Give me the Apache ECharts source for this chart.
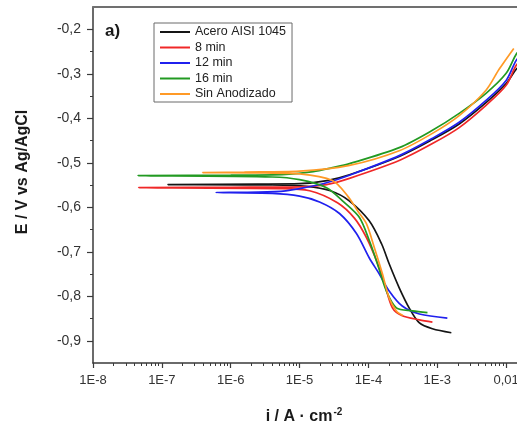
<!DOCTYPE html>
<html>
<head>
<meta charset="utf-8">
<script src="https://cdn.jsdelivr.net/npm/echarts@6/dist/echarts.min.js"></script>
<style>
  html, body { margin: 0; padding: 0; background: #ffffff; }
  #chart { width: 517px; height: 426px; }
</style>
</head>
<body>
<div id="chart"></div>
<script>
// Potentiodynamic polarization curves: current density i (A/cm²) vs potential E (V vs Ag/AgCl)
var seriesNames = ['Acero AISI 1045', '8 min', '12 min', '16 min', 'Sin Anodizado'];
var seriesColors = ['#151515', '#f02828', '#2020ee', '#229a22', '#ff9a26'];

// Acero AISI 1045
var acero_i = [1.6e-3, 8.5e-4, 5.5e-4, 3.9e-4, 2.8e-4, 2.0e-4, 1.55e-4, 1.02e-4, 5.2e-5, 2.8e-5, 1.26e-5, 4.0e-6,
               1.22e-7, 2.5e-6, 1.0e-5, 2.5e-5, 5.3e-5, 2.8e-4, 8.5e-4, 2.08e-3, 5.1e-3, 1.0e-2, 1.4e-2, 1.78e-2];
var acero_E = [-0.882, -0.873, -0.860, -0.826, -0.781, -0.727, -0.682, -0.630, -0.585, -0.563, -0.553, -0.550,
               -0.549, -0.548, -0.547, -0.540, -0.527, -0.486, -0.448, -0.413, -0.365, -0.322, -0.290, -0.276];

// 8 min
var min8_i = [8.5e-4, 5.5e-4, 3.1e-4, 2.23e-4, 1.71e-4, 1.31e-4, 9.35e-5, 6.3e-5, 3.55e-5, 1.4e-5, 5.0e-6,
              4.6e-8, 1.0e-6, 1.0e-5, 2.46e-5, 5.3e-5, 2.8e-4, 8.5e-4, 2.08e-3, 5.1e-3, 1.0e-2, 1.4e-2, 1.78e-2];
var min8_E = [-0.858, -0.853, -0.844, -0.826, -0.772, -0.720, -0.668, -0.625, -0.590, -0.563, -0.558,
              -0.556, -0.555, -0.554, -0.549, -0.535, -0.495, -0.457, -0.421, -0.371, -0.326, -0.281, -0.265];

// 12 min
var min12_i = [1.4e-3, 5.5e-4, 3.1e-4, 2.0e-4, 1.44e-4, 1.03e-4, 6.7e-5, 3.8e-5, 1.95e-5, 1.0e-5, 4.0e-6,
               6.1e-7, 2.5e-6, 6.3e-6, 1.26e-5, 2.46e-5, 5.3e-5, 2.8e-4, 8.5e-4, 2.08e-3, 5.1e-3, 1.0e-2, 1.4e-2, 1.78e-2];
var min12_E = [-0.849, -0.840, -0.822, -0.788, -0.750, -0.714, -0.659, -0.614, -0.588, -0.575, -0.569,
               -0.567, -0.566, -0.563, -0.555, -0.545, -0.528, -0.484, -0.445, -0.409, -0.360, -0.315, -0.270, -0.254];

// 16 min
var min16_i = [7.2e-4, 4.35e-4, 2.55e-4, 1.82e-4, 1.35e-4, 1.03e-4, 7.4e-5, 4.37e-5, 2.46e-5, 1.0e-5, 4.0e-6,
               4.5e-8, 1.0e-6, 6.3e-6, 1.58e-5, 3.0e-5, 5.3e-5, 2.8e-4, 8.5e-4, 2.08e-3, 5.1e-3, 1.0e-2, 1.4e-2, 1.78e-2];
var min16_E = [-0.837, -0.833, -0.826, -0.788, -0.727, -0.675, -0.623, -0.588, -0.556, -0.538, -0.532,
               -0.529, -0.528, -0.526, -0.520, -0.511, -0.502, -0.466, -0.427, -0.389, -0.344, -0.299, -0.256, -0.238];

// Sin Anodizado
var sinAnod_i = [3.16e-4, 2.55e-4, 2.0e-4, 1.6e-4, 1.22e-4, 9.35e-5, 7.1e-5, 5.0e-5, 3.0e-5, 1.0e-5, 3.16e-6,
                 3.9e-7, 1.58e-6, 1.0e-5, 5.3e-5, 2.8e-4, 8.5e-4, 2.08e-3, 5.1e-3, 7.9e-3, 1.29e-2];
var sinAnod_E = [-0.843, -0.833, -0.804, -0.750, -0.691, -0.637, -0.610, -0.575, -0.540, -0.525, -0.523,
                 -0.522, -0.521, -0.519, -0.506, -0.473, -0.434, -0.394, -0.337, -0.290, -0.243];

// Axis ticks and labels
var xTickValues = [1e-8, 1e-7, 1e-6, 1e-5, 1e-4, 1e-3, 1e-2];
var xTickLabels = ['1E-8', '1E-7', '1E-6', '1E-5', '1E-4', '1E-3', '0,01'];
var yTickValues = [-0.9, -0.8, -0.7, -0.6, -0.5, -0.4, -0.3, -0.2];
var yTickLabels = ['-0,9', '-0,8', '-0,7', '-0,6', '-0,5', '-0,4', '-0,3', '-0,2'];
var yMinorTicks = [-0.85, -0.75, -0.65, -0.55, -0.45, -0.35, -0.25];

// minor ticks at 2..9 within each decade
var xMinorTicks = [];
xTickValues.forEach(function (d) {
  for (var m = 2; m <= 9; m++) xMinorTicks.push(d * m);
});

var FONT = 'Arial, "Liberation Sans", sans-serif';
var AXIS_COLOR = '#3a3a3a';

function pairs(xs, ys) {
  return xs.map(function (x, k) { return [x, ys[k]]; });
}
var seriesData = [
  pairs(acero_i, acero_E),
  pairs(min8_i, min8_E),
  pairs(min12_i, min12_E),
  pairs(min16_i, min16_E),
  pairs(sinAnod_i, sinAnod_E)
];

var chart = echarts.init(document.getElementById('chart'), null, { renderer: 'canvas' });

// the plot frame runs on past the right edge of the page, up to 0,1
var logAxisBase = { type: 'log', logBase: 10, min: 1e-8, max: 1e-1, splitLine: { show: false } };

var option = {
  animation: false,
  backgroundColor: '#ffffff',
  grid: { left: 93, right: -58, top: 7, bottom: 63, outerBoundsMode: 'none' },
  legend: {
    orient: 'vertical',
    left: 154,
    top: 23,
    padding: [2, 6, 1, 6],
    itemWidth: 30,
    itemHeight: 2,
    itemGap: 1.5,
    icon: 'rect',
    borderColor: '#6a6a6a',
    borderWidth: 1,
    textStyle: { fontFamily: FONT, fontSize: 12.5, color: '#222', lineHeight: 14 },
    data: seriesNames
  },
  xAxis: [
    Object.assign({}, logAxisBase, {
      position: 'bottom',
      axisLine: { show: true, onZero: false, lineStyle: { color: AXIS_COLOR, width: 1.5 } },
      axisTick: { show: true, length: 5, customValues: xTickValues, lineStyle: { color: AXIS_COLOR, width: 1.2 } },
      axisLabel: {
        show: true, customValues: xTickValues, margin: 11,
        fontFamily: FONT, fontSize: 13, color: '#333',
        formatter: function (v) {
          var k = Math.round(Math.log(v) / Math.LN10) + 8;
          return xTickLabels[k] || '';
        }
      }
    }),
    Object.assign({}, logAxisBase, {
      position: 'bottom',
      axisLine: { show: false, onZero: false },
      axisTick: { show: true, length: 3, customValues: xMinorTicks, lineStyle: { color: AXIS_COLOR, width: 1 } },
      axisLabel: { show: false }
    }),
    Object.assign({}, logAxisBase, {
      position: 'top',
      axisLine: { show: true, onZero: false, lineStyle: { color: '#707070', width: 2 } },
      axisTick: { show: false },
      axisLabel: { show: false }
    })
  ],
  yAxis: [
    {
      type: 'value', min: -0.95, max: -0.15, position: 'left', offset: 0,
      splitLine: { show: false },
      axisLine: { show: true, onZero: false, lineStyle: { color: AXIS_COLOR, width: 1.5 } },
      axisTick: { show: true, length: 6, customValues: yTickValues, lineStyle: { color: AXIS_COLOR, width: 1.2 } },
      axisLabel: {
        show: true, customValues: yTickValues, margin: 12,
        fontFamily: FONT, fontSize: 14, color: '#333',
        formatter: function (v) {
          for (var k = 0; k < yTickValues.length; k++) {
            if (Math.abs(yTickValues[k] - v) < 1e-6) return yTickLabels[k];
          }
          return '';
        }
      }
    },
    {
      type: 'value', min: -0.95, max: -0.15, position: 'left', offset: 0,
      splitLine: { show: false },
      axisLine: { show: false, onZero: false },
      axisTick: { show: true, length: 3, customValues: yMinorTicks, lineStyle: { color: AXIS_COLOR, width: 1 } },
      axisLabel: { show: false }
    }
  ],
  graphic: [
    {
      type: 'text', left: 105, top: 23,
      style: { text: 'a)', font: 'bold 17px ' + FONT, fill: '#1a1a1a' }
    },
    {
      type: 'text', x: 304, y: 417,
      style: {
        text: '{a|i / A · cm}{s|-2}',
        align: 'center', verticalAlign: 'middle',
        rich: {
          a: { font: 'bold 16px ' + FONT, fill: '#1a1a1a' },
          s: { font: 'bold 10px ' + FONT, fill: '#1a1a1a', padding: [0, 0, 10, 1] }
        }
      }
    },
    {
      type: 'text', x: 23, y: 172, rotation: Math.PI / 2,
      style: {
        text: 'E / V vs Ag/AgCl',
        align: 'center', verticalAlign: 'middle',
        font: 'bold 16px ' + FONT, fill: '#1a1a1a'
      }
    }
  ],
  series: seriesNames.map(function (name, k) {
    return {
      name: name,
      type: 'line',
      xAxisIndex: 0,
      yAxisIndex: 0,
      data: seriesData[k],
      symbol: 'none',
      smooth: 0.3,
      color: seriesColors[k],
      lineStyle: { color: seriesColors[k], width: 1.7 },
      z: 2 + k
    };
  })
};

chart.setOption(option);
</script>
</body>
</html>
